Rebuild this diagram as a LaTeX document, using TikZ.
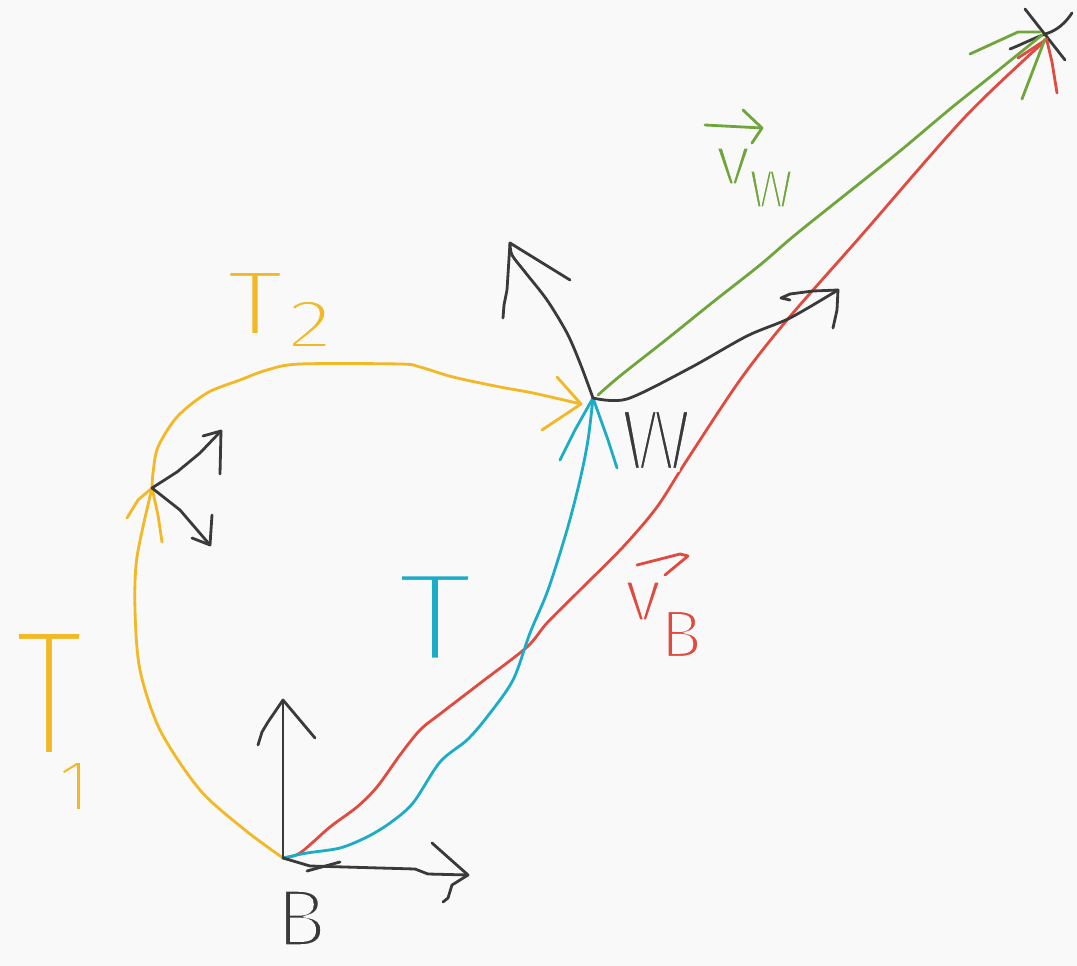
\documentclass[tikz,border=0pt]{standalone}
\usepackage{fontspec}
\newfontfamily\hand{Fira Sans}
\definecolor{bgc}{HTML}{F9F9F9}
\definecolor{ink}{HTML}{3A3A3A}
\definecolor{yel}{HTML}{F2B825}
\definecolor{cya}{HTML}{1BADC6}
\definecolor{red1}{HTML}{E04A3F}
\definecolor{grn}{HTML}{6FA63C}
\tikzset{
  pen/.style={line width=2.8pt,line cap=round,line join=round},
  lab/.style={inner sep=0pt,font=\hand},
}
% thin the glyphs by stroking their outline in the background colour
\newcommand{\thinlab}[3]{\fontsize{#1}{#1}\selectfont\special{pdf:literal direct 2 Tr 0.976 0.976 0.976 RG #2 w}#3\special{pdf:literal direct 0 Tr}}
\begin{document}
\begin{tikzpicture}[x=1pt,y=-1pt]
\fill[bgc] (0,0) rectangle (1077,966);
\useasboundingbox (0,0) rectangle (1077,966);
% key points
\coordinate (B) at (283,858);
\coordinate (W) at (593,398);
\coordinate (X) at (1045,36);
\coordinate (J) at (152,488);
\coordinate (T2e) at (581,404);
% black X mark
\draw[pen,ink] (1025,9) -- (1065,60);
\draw[pen,ink] (1072,13) .. controls (1062,28) and (1052,32) .. (1045,34) .. controls (1030,40) and (1018,46) .. (1010,49);
% red v_B line
\draw[pen,red1] plot[smooth,tension=0.5] coordinates {(B) (300,853) (330,827) (357,807) (377,787) (400,755) (420,730) (440,714) (483,681) (527,647) (547,623) (580,590) (623,547) (657,507) (687,460) (740,380) (787,320) (860,237) (965,117) (1047,39)};
\draw[pen,red1] (1047,39) -- (1018,58);
\draw[pen,red1] (1047,41) -- (1052,62) -- (1057,93);
% green v_W line
\draw[pen,grn] plot[smooth,tension=0.5] coordinates {(598,395) (620,376) (667,339) (713,302) (760,265) (795,235) (850,191) (900,151) (950,109) (990,77) (1042,35)};
\draw[pen,grn] (1040,32) -- (1018,32) -- (970,54);
\draw[pen,grn] (1045,39) -- (1022,99);
% cyan T
\draw[pen,cya] plot[smooth,tension=0.5] coordinates {(B) (307,853) (340,848) (367,837) (390,823) (413,803) (440,762) (467,740) (487,717) (513,680) (530,633) (548,590) (567,530) (580,480) (588,440) (W)};
\draw[pen,cya] (W) -- (575,430) -- (560,460);
\draw[pen,cya] (W) -- (608,440) -- (617,468);
% yellow T1
\draw[pen,yel] plot[smooth,tension=0.5] coordinates {(B) (245,830) (200,790) (160,730) (140,670) (135,610) (137,557) (J)};
\draw[pen,yel] (J) -- (138,500) -- (127,518);
\draw[pen,yel] (J) -- (158,515) -- (162,542);
% yellow T2
\draw[pen,yel] plot[smooth,tension=0.5] coordinates {(J) (153,473) (158,447) (177,417) (207,393) (240,380) (267,370) (300,364) (400,364) (420,367) (453,377) (500,387) (533,393) (T2e)};
\draw[pen,yel] (T2e) -- (557,377);
\draw[pen,yel] (T2e) -- (542,430);
% black axes at B
\coordinate (Bup) at (283,700);
\draw[pen,ink] (B) -- (Bup);
\draw[pen,ink] (Bup) -- (268,722) -- (262,732) -- (258,745);
\draw[pen,ink] (Bup) -- (315,738);
\coordinate (Bri) at (468,875);
\draw[pen,ink] (B) -- (310,866) -- (415,869) -- (428,874) -- (Bri);
\draw[pen,ink] (307,871) -- (340,862);
\draw[pen,ink] (Bri) -- (432,843);
\draw[pen,ink] (Bri) -- (452,885) -- (448,898) -- (443,902);
% black arrows at W
\coordinate (Wup) at (510,243);
\draw[pen,ink] plot[smooth,tension=0.5] coordinates {(W) (580,363) (567,333) (547,300) (525,272) (512,255) (Wup)};
\draw[pen,ink] (Wup) -- (507,290) -- (504,305) -- (503,318);
\draw[pen,ink] (Wup) -- (570,280);
\coordinate (Wri) at (838,290);
\draw[pen,ink] plot[smooth,tension=0.5] coordinates {(W) (627,399) (690,368) (747,336) (790,318) (Wri)};
\draw[pen,ink] (Wri) -- (813,291) -- (790,294) -- (781,298) -- (790,300);
\draw[pen,ink] (Wri) -- (837,310) -- (833,328);
% black arrows at J
\coordinate (Jup) at (221,431);
\draw[pen,ink] (J) -- (177,472) -- (200,453) -- (Jup);
\draw[pen,ink] (Jup) -- (203,436);
\draw[pen,ink] (Jup) -- (220,474);
\coordinate (Jdn) at (210,545);
\draw[pen,ink] (J) -- (180,510) -- (Jdn);
\draw[pen,ink] (Jdn) -- (212,515);
\draw[pen,ink] (Jdn) -- (192,538);
% labels
\node[lab,text=ink] (labW) at (656,440) {\thinlab{87}{4}{W}};
\node[lab,text=ink] (labB) at (301,918) {\thinlab{82}{3.9}{B}};
\node[lab,text=cya,xscale=1.2] (labT) at (435,617) {\thinlab{128}{7}{T}};
\node[lab,text=yel,xscale=0.75] (labTa) at (49,693) {\thinlab{186}{10}{T}};
\node[lab,text=yel] (labTas) at (74,786) {\thinlab{74}{3.4}{1}};
\node[lab,text=yel,xscale=1.2] (labTb) at (255,303) {\thinlab{94}{4.6}{T}};
\node[lab,text=yel,xscale=1.3] (labTbs) at (310,324) {\thinlab{70}{3.2}{2}};
\node[lab,text=grn] (labvw) at (733,166) {\thinlab{72}{3.2}{v}};
\node[lab,text=grn] (labvws) at (771,189) {\thinlab{54}{2.2}{W}};
\draw[pen,grn] (705,125) -- (762,128);
\draw[pen,grn] (743,110) -- (762,128) -- (752,143);
\node[lab,text=red1] (labvb) at (643,601) {\thinlab{76}{3.4}{v}};
\node[lab,text=red1] (labvbs) at (681,634) {\thinlab{68}{3}{B}};
\draw[pen,red1] (637,565) -- (680,554) -- (688,556) -- (665,575);
\end{tikzpicture}
\end{document}
